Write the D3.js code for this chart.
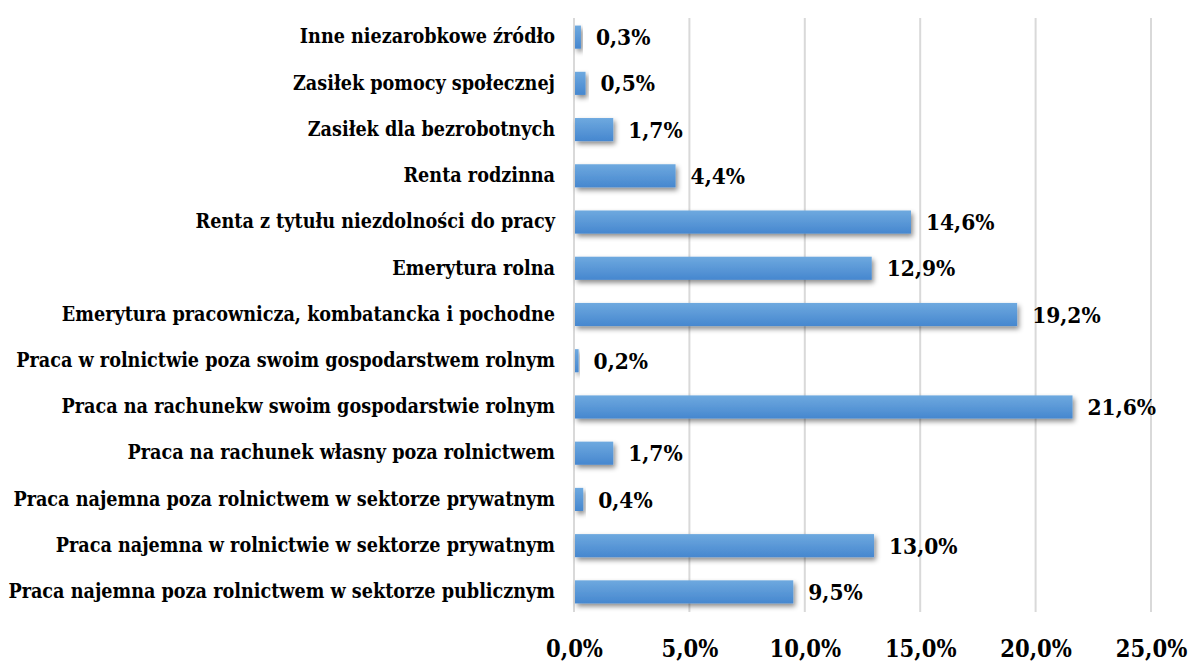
<!DOCTYPE html>
<html><head><meta charset="utf-8">
<script src="https://cdn.jsdelivr.net/npm/d3@7"></script>
<style>
body{margin:0;background:#fff;}
text{font-family:"DejaVu Serif Condensed","DejaVu Serif",serif;font-weight:bold;fill:#000;}
</style></head><body>
<svg id="c" width="1192" height="661"></svg>
<script>
const categories = [
 "Inne niezarobkowe źródło",
 "Zasiłek pomocy społecznej",
 "Zasiłek dla bezrobotnych",
 "Renta rodzinna",
 "Renta z tytułu niezdolności do pracy",
 "Emerytura rolna",
 "Emerytura pracownicza, kombatancka i pochodne",
 "Praca w rolnictwie poza swoim gospodarstwem rolnym",
 "Praca na rachunekw swoim gospodarstwie rolnym",
 "Praca na rachunek własny poza rolnictwem",
 "Praca najemna poza rolnictwem w sektorze prywatnym",
 "Praca najemna w rolnictwie w sektorze prywatnym",
 "Praca najemna poza rolnictwem w sektorze publicznym"
];
const values = [0.3,0.5,1.7,4.4,14.6,12.9,19.2,0.2,21.6,1.7,0.4,13.0,9.5];
const ticks = [0,5,10,15,20,25];

const svg = d3.select("#c");
const defs = svg.append("defs");
const g = defs.append("linearGradient").attr("id","bg").attr("x1",0).attr("y1",0).attr("x2",0).attr("y2",1);
g.append("stop").attr("offset","0%").attr("stop-color","#6ea9df");
g.append("stop").attr("offset","100%").attr("stop-color","#4687cf");
const f = defs.append("filter").attr("id","sh").attr("x","-20%").attr("y","-50%").attr("width","150%").attr("height","250%");
f.append("feDropShadow").attr("dx",2).attr("dy",3).attr("stdDeviation",2.5).attr("flood-color","#000").attr("flood-opacity",0.45);

const x = d3.scaleLinear().domain([0,25]).range([574,1151]);
const y = d3.scaleBand().domain(categories).range([14,615]).paddingInner(0.5).paddingOuter(0.25);

const fmt = v => v.toFixed(1).replace(".",",") + "%";
const FF = "'DejaVu Serif Condensed','DejaVu Serif',serif";

svg.append("g").selectAll("line").data(ticks).join("line")
 .attr("x1",d=>x(d)).attr("x2",d=>x(d)).attr("y1",18).attr("y2",612)
 .attr("stroke","#d9d9d9").attr("stroke-width",2);

const ax = svg.append("g").attr("transform","translate(0,633)")
 .call(d3.axisBottom(x).tickValues(ticks).tickSize(0).tickPadding(0).tickFormat(fmt));
ax.select(".domain").remove();
ax.selectAll("text").attr("font-size",23.5).attr("dy","1em").style("font-family",FF).style("font-weight","bold");

const yl = svg.append("g").attr("transform","translate(555,0)")
 .call(d3.axisLeft(y).tickSize(0).tickPadding(0));
yl.select(".domain").remove();
yl.selectAll("text").attr("font-size",19.6).style("font-family",FF).style("font-weight","bold");

svg.append("g").selectAll("rect").data(values).join("rect")
 .attr("x",x(0)+1).attr("y",(d,i)=>y(categories[i]))
 .attr("width",d=>x(d)-x(0)-1).attr("height",y.bandwidth())
 .attr("fill","url(#bg)").attr("filter","url(#sh)");

svg.append("g").selectAll("text").data(values).join("text")
 .attr("x",d=>x(d)+15).attr("y",(d,i)=>y(categories[i])+y.bandwidth()/2)
 .attr("dy","0.36em").attr("font-size",22.5).text(fmt);
</script></body></html>
